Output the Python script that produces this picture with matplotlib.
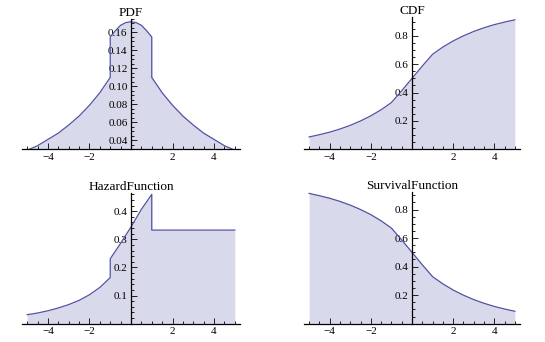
import matplotlib.pyplot as plt
from matplotlib.ticker import MultipleLocator, FixedLocator

plt.rcParams['font.family'] = ['Liberation Serif', 'DejaVu Serif']

# values
x_pdf = [-5, -4.5, -4, -3.5, -3, -2.5, -2, -1.5, -1, -1, -0.75, -0.5, -0.25, 0,
         0.25, 0.5, 0.75, 1, 1, 1.5, 2, 2.5, 3, 3.5, 4, 4.5, 5]
pdf = [0.029, 0.034, 0.041, 0.048, 0.057, 0.067, 0.079, 0.093, 0.110, 0.155,
       0.162, 0.168, 0.171, 0.172, 0.171, 0.168, 0.162, 0.155, 0.110, 0.093,
       0.079, 0.067, 0.057, 0.048, 0.041, 0.034, 0.029]

x_cdf = [-5, -4.5, -4, -3.5, -3, -2.5, -2, -1.5, -1, -0.5, 0,
         0.5, 1, 1.5, 2, 2.5, 3, 3.5, 4, 4.5, 5]
cdf = [0.087, 0.103, 0.121, 0.143, 0.169, 0.200, 0.236, 0.279, 0.330, 0.413, 0.500,
       0.587, 0.670, 0.721, 0.764, 0.800, 0.831, 0.857, 0.879, 0.897, 0.913]
survival = [0.913, 0.897, 0.879, 0.857, 0.831, 0.800, 0.764, 0.721, 0.670, 0.587, 0.500,
            0.413, 0.330, 0.279, 0.236, 0.200, 0.169, 0.143, 0.121, 0.103, 0.087]

x_haz = [-5, -4.5, -4, -3.5, -3, -2.5, -2, -1.5, -1, -1, -0.5, 0, 0.5, 1, 1, 5]
hazard = [0.032, 0.038, 0.046, 0.056, 0.068, 0.083, 0.103, 0.129, 0.164, 0.231,
          0.286, 0.344, 0.407, 0.460, 0.333, 0.333]

x_ticks = [-4, -2, 2, 4]
x_labels = ['\u22124', '\u22122', '2', '4']

LINE = '#5252a3'
FILL = '#d9d9ec'
W, H = 545, 342

fig = plt.figure(figsize=(W / 100, H / 100), dpi=100)


def make_axes(left, right, top, bottom):
    return fig.add_axes([left / W, 1 - bottom / H, (right - left) / W, (bottom - top) / H])


def style(ax, title, ylim, yticks, ymajor_fmt, yminor):
    ax.set_xlim(-5.25, 5.25)
    ax.set_ylim(*ylim)
    ax.patch.set_alpha(0)
    for s in ['top', 'right']:
        ax.spines[s].set_visible(False)
    ax.spines['left'].set_position(('data', 0))
    ax.spines['left'].set_linewidth(0.9)
    ax.spines['bottom'].set_linewidth(0.9)
    ax.xaxis.set_major_locator(FixedLocator(x_ticks))
    ax.set_xticklabels(x_labels)
    ax.xaxis.set_minor_locator(MultipleLocator(0.5))
    ax.yaxis.set_major_locator(FixedLocator(yticks))
    ax.set_yticklabels([ymajor_fmt % v for v in yticks])
    ax.yaxis.set_minor_locator(MultipleLocator(yminor))
    ax.tick_params(which='both', direction='in', width=0.6, labelsize=8, pad=2.5)
    ax.tick_params(which='major', length=4)
    ax.tick_params(which='minor', length=2)
    ax.set_title(title, fontsize=9.5, pad=2)


def draw(ax, x, y, base):
    ax.fill_between(x, y, base, color=FILL, lw=0)
    ax.plot(x, y, color=LINE, lw=0.9)


ax1 = make_axes(22, 240, 19, 149.3)
draw(ax1, x_pdf, pdf, 0.0)
style(ax1, 'PDF', (0.03, 0.175), [0.04, 0.06, 0.08, 0.10, 0.12, 0.14, 0.16], '%.2f', 0.005)

ax2 = make_axes(304, 520, 16.7, 149.3)
draw(ax2, x_cdf, cdf, 0.0)
style(ax2, 'CDF', (0, 0.935), [0.2, 0.4, 0.6, 0.8], '%.1f', 0.05)

ax3 = make_axes(22, 240, 192.7, 323.7)
draw(ax3, x_haz, hazard, 0.0)
style(ax3, 'HazardFunction', (0, 0.466), [0.1, 0.2, 0.3, 0.4], '%.1f', 0.02)

ax4 = make_axes(304, 520, 191.7, 323.7)
draw(ax4, x_cdf, survival, 0.0)
style(ax4, 'SurvivalFunction', (0, 0.925), [0.2, 0.4, 0.6, 0.8], '%.1f', 0.05)

fig.savefig('out.png', dpi=100)
